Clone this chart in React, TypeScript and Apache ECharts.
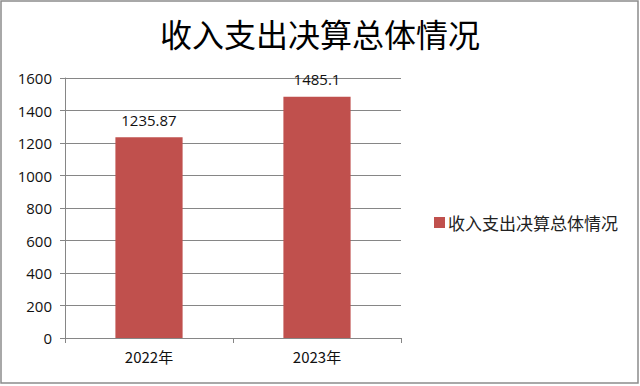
import React, { useEffect, useRef } from "react";
import * as echarts from "echarts";

const categories = ["2022年", "2023年"];
const seriesName = "收入支出决算总体情况";
const values = [1235.87, 1485.1];
const yTicks = { min: 0, max: 1600, interval: 200 };

export default function App() {
  const ref = useRef<HTMLDivElement>(null);

  useEffect(() => {
    document.body.style.margin = "0";
    const chart = echarts.init(ref.current!, undefined, { renderer: "svg" });
    const font = "'Open Sans', 'Noto Sans CJK SC', sans-serif";
    chart.setOption({
      animation: false,
      backgroundColor: "#ffffff",
      title: {
        text: seriesName,
        left: "center",
        top: 12,
        textStyle: {
          fontFamily: "'Noto Sans CJK SC', sans-serif",
          fontSize: 32,
          fontWeight: "normal",
          color: "#000000",
        },
      },
      legend: {
        data: [seriesName],
        left: 429,
        top: 209,
        icon: "rect",
        itemWidth: 11,
        itemHeight: 11,
        itemGap: 4,
        textStyle: {
          fontFamily: "'Noto Sans CJK SC', sans-serif",
          fontSize: 17,
          color: "#222222",
          padding: [0, 0, 0, -2],
        },
      },
      grid: { left: 65, right: 239, top: 78, bottom: 48, containLabel: false },
      xAxis: {
        type: "category",
        data: categories,
        boundaryGap: true,
        axisLine: { show: true, lineStyle: { color: "#868686", width: 1 } },
        axisTick: { show: true, length: 5, alignWithLabel: false, lineStyle: { color: "#868686" } },
        axisLabel: {
          fontFamily: "'Noto Sans CJK SC', sans-serif",
          fontSize: 15,
          color: "#111111",
          margin: 11,
        },
      },
      yAxis: {
        type: "value",
        min: yTicks.min,
        max: yTicks.max,
        interval: yTicks.interval,
        axisLine: { show: true, lineStyle: { color: "#868686", width: 1 } },
        axisTick: { show: true, length: 5, lineStyle: { color: "#868686" } },
        splitLine: { show: true, lineStyle: { color: "#868686", width: 1 } },
        axisLabel: {
          fontFamily: font,
          fontSize: 15,
          color: "#111111",
          margin: 13,
          formatter: (v: number) => String(v),
        },
      },
      series: [
        {
          name: seriesName,
          type: "bar",
          data: values,
          barWidth: "40%",
          itemStyle: { color: "#C0504D" },
          label: {
            show: true,
            position: "top",
            distance: 10,
            fontFamily: font,
            fontSize: 15,
            color: "#111111",
          },
        },
      ],
      graphic: [
        {
          type: "rect",
          shape: { x: 1, y: 1, width: 637, height: 382 },
          style: { fill: "none", stroke: "#8c8c8c", lineWidth: 1.5 },
          silent: true,
        },
      ],
    });
    return () => chart.dispose();
  }, []);

  return (
    <div style={{ position: "absolute", left: 0, top: 0, width: 640, height: 386 }}>
      <div ref={ref} style={{ width: 640, height: 386 }} />
    </div>
  );
}
